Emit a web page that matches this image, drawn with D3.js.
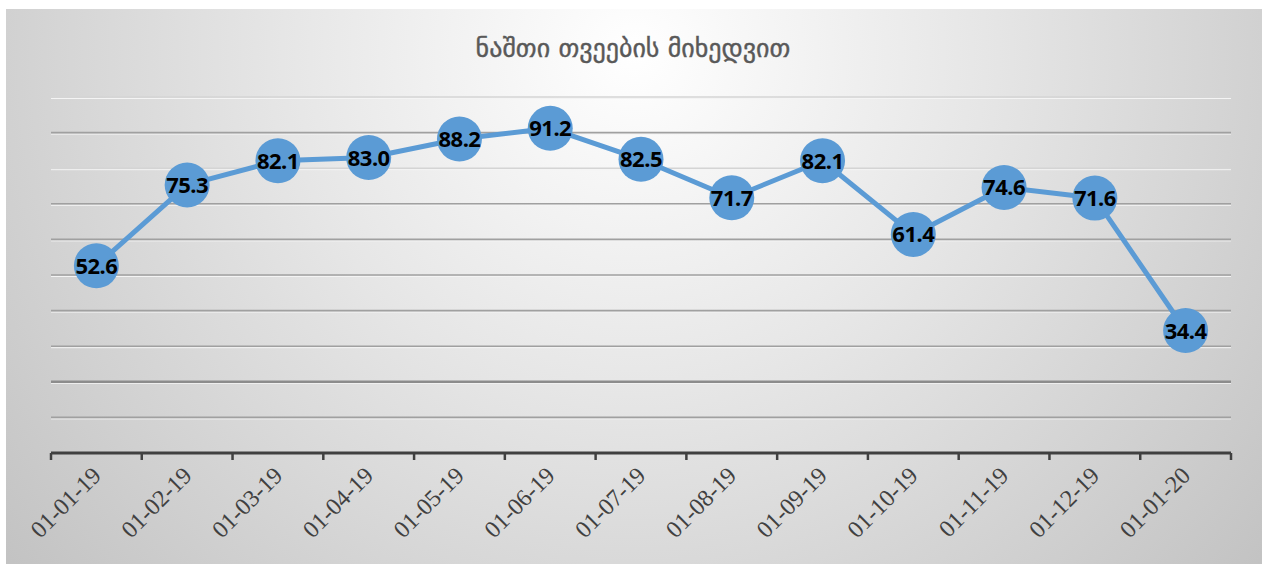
<!DOCTYPE html>
<html>
<head>
<meta charset="utf-8">
<script src="https://cdn.jsdelivr.net/npm/d3@7"></script>
<style>
  body { margin: 0; background: #fff; }
</style>
</head>
<body>
<div id="chart"></div>
<script>
// chart data
const title = "ნაშთი თვეების მიხედვით";
const months = ["01-01-19", "01-02-19", "01-03-19", "01-04-19", "01-05-19", "01-06-19", "01-07-19",
                "01-08-19", "01-09-19", "01-10-19", "01-11-19", "01-12-19", "01-01-20"];
const values = [52.6, 75.3, 82.1, 83.0, 88.2, 91.2, 82.5, 71.7, 82.1, 61.4, 74.6, 71.6, 34.4];
const gridValues = [10, 20, 30, 40, 50, 60, 70, 80, 90, 100];

const width = 1264;
const height = 564;
const margin = { top: 97, right: 33, bottom: 111, left: 51 };

const svg = d3.select("#chart")
    .append("svg")
    .attr("width", width)
    .attr("height", height);

// background gradient of the chart panel
const defs = svg.append("defs");
const grad = defs.append("radialGradient")
    .attr("id", "bg")
    .attr("cx", "50%").attr("cy", "8%")
    .attr("r", "70%")
    .attr("gradientTransform", "translate(0.5,0.08) scale(1,2.2) translate(-0.5,-0.08)");
grad.append("stop").attr("offset", "0%").attr("stop-color", "#ffffff");
grad.append("stop").attr("offset", "40%").attr("stop-color", "#e6e6e6");
grad.append("stop").attr("offset", "100%").attr("stop-color", "#bebebe");

svg.append("rect")
    .attr("x", 6).attr("y", 9)
    .attr("width", 1256).attr("height", 555)
    .attr("fill", "url(#bg)");

const x = d3.scaleBand()
    .domain(months)
    .range([margin.left, width - margin.right]);

const y = d3.scaleLinear()
    .domain([0, 100])
    .range([height - margin.bottom, margin.top]);

// gridlines
const grid = svg.append("g");
grid.selectAll("line.hi")
    .data(gridValues)
    .enter()
    .append("line")
    .attr("x1", margin.left).attr("x2", width - margin.right)
    .attr("y1", d => y(d) + 1.5).attr("y2", d => y(d) + 1.5)
    .attr("stroke", "#f4f4f4")
    .attr("stroke-width", 1);
grid.selectAll("line.g")
    .data(gridValues)
    .enter()
    .append("line")
    .attr("x1", margin.left).attr("x2", width - margin.right)
    .attr("y1", d => y(d)).attr("y2", d => y(d))
    .attr("stroke", d => d === 100 || d === 80 ? "#d4d4d4" : (d === 20 ? "#8c8c8c" : "#a0a0a0"))
    .attr("stroke-width", d => d === 20 ? 2.5 : 1.6);

// x axis
const xAxis = svg.append("g")
    .attr("transform", `translate(0,${y(0)})`);
xAxis.append("line")
    .attr("x1", margin.left).attr("x2", width - margin.right)
    .attr("stroke", "#404040")
    .attr("stroke-width", 3);
const tickPos = months.map(m => x(m)).concat([width - margin.right]);
xAxis.selectAll("line.tick")
    .data(tickPos)
    .enter()
    .append("line")
    .attr("x1", d => d).attr("x2", d => d)
    .attr("y1", 0).attr("y2", 7)
    .attr("stroke", "#404040")
    .attr("stroke-width", 2.5);
xAxis.selectAll("text")
    .data(months)
    .enter()
    .append("text")
    .attr("transform", d => `translate(${x(d) + x.bandwidth() / 2 + 6},${24}) rotate(-45)`)
    .attr("text-anchor", "end")
    .attr("font-family", "Liberation Serif, serif")
    .attr("font-size", 24)
    .attr("fill", "#404040")
    .text(d => d);

// line and markers
const cx = (d, i) => x(months[i]) + x.bandwidth() / 2;
const line = d3.line()
    .x(cx)
    .y(d => y(d));

svg.append("path")
    .datum(values)
    .attr("d", line)
    .attr("fill", "none")
    .attr("stroke", "#5b9bd5")
    .attr("stroke-width", 5)
    .attr("stroke-linejoin", "round");

svg.selectAll("circle")
    .data(values)
    .enter()
    .append("circle")
    .attr("cx", cx)
    .attr("cy", d => y(d))
    .attr("r", 22.5)
    .attr("fill", "#5b9bd5");

svg.selectAll("text.val")
    .data(values)
    .enter()
    .append("text")
    .attr("class", "val")
    .attr("x", cx)
    .attr("y", d => y(d) + 8)
    .attr("text-anchor", "middle")
    .attr("font-family", "Noto Sans, sans-serif")
    .attr("font-weight", "bold")
    .attr("font-size", 22)
    .attr("letter-spacing", -0.5)
    .attr("fill", "#000")
    .text(d => d.toFixed(1));

// title
svg.append("text")
    .attr("x", 633)
    .attr("y", 57)
    .attr("text-anchor", "middle")
    .attr("font-family", "DejaVu Sans, sans-serif")
    .attr("font-size", 26)
    .attr("fill", "#595959")
    .attr("stroke", "#595959")
    .attr("stroke-width", 0.4)
    .text(title);
</script>
</body>
</html>
